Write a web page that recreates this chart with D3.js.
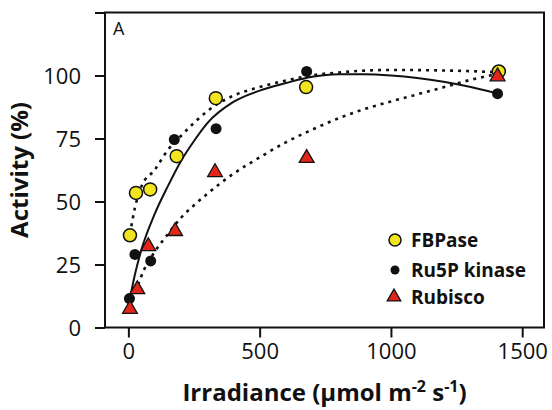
<!DOCTYPE html>
<html>
<head>
<meta charset="utf-8">
<script src="https://cdn.jsdelivr.net/npm/d3@7/dist/d3.min.js"></script>
<style>
  html, body { margin: 0; padding: 0; background: #fff; }
  svg { display: block; }
</style>
</head>
<body>
<svg id="chart" width="552" height="410"></svg>
<script>
// ---- data ----
const fbpaseX = [6, 29, 83, 184, 333, 677, 1411];
const fbpaseY = [36.6, 53.4, 54.8, 68, 91, 95.4, 101.6];
const ru5pX = [4, 25, 85, 175, 334, 679, 1406];
const ru5pY = [11.5, 29, 26.4, 74.6, 78.9, 101.6, 92.8];
const rubiscoX = [6, 34, 76, 178, 330, 679, 1406];
const rubiscoY = [7.7, 15.5, 32.6, 38.6, 62, 67.6, 100];

// fitted curves
const fbpaseFitX = [6, 25, 50, 100, 150, 200, 250, 300, 400, 500, 600, 700, 800, 1000, 1200, 1411];
const fbpaseFitY = [37, 47.5, 56, 62.5, 70.4, 76, 81.2, 85.8, 92, 95.4, 98, 100.1, 101.2, 102.2, 102, 101.3];
const ru5pFitX = [5, 25, 50, 100, 150, 200, 250, 300, 400, 500, 600, 700, 800, 900, 1000, 1100, 1200, 1300, 1406];
const ru5pFitY = [11, 21, 31, 45, 56, 66, 74, 81, 89.5, 94, 97, 99.5, 100.5, 100.5, 100, 99, 97.5, 95.5, 92.8];
const rubiscoFitX = [6, 30, 60, 100, 150, 200, 250, 300, 400, 500, 600, 700, 800, 900, 1000, 1100, 1200, 1300, 1406];
const rubiscoFitY = [8, 15, 23, 30, 37, 43.5, 48.5, 53, 61, 67.5, 73.5, 78.5, 83, 86.7, 89.7, 92.5, 95.3, 98.2, 100.6];

const xTicks = [0, 500, 1000, 1500];
const yTicks = [0, 25, 50, 75, 100];
const yTicksMinor = [125];
const legendNames = ["FBPase", "Ru5P kinase", "Rubisco"];

// ---- layout ----
const svg = d3.select("#chart");
const L = 105, R = 544, T = 12.5, B = 327.5;
const x = d3.scaleLinear().domain([-89, 1583]).range([L, R]);
const y = d3.scaleLinear().domain([0, 125]).range([B, T]);

const YELLOW = "#f3e420", RED = "#e2261b", INK = "#111";
const font = "'Open Sans', 'DejaVu Sans', sans-serif";

// frame
svg.append("rect").attr("x", L).attr("y", T).attr("width", R - L).attr("height", B - T)
  .attr("fill", "none").attr("stroke", INK).attr("stroke-width", 2);

// axes
const xAxis = svg.append("g").attr("transform", `translate(0,${B})`)
  .call(d3.axisBottom(x).tickValues(xTicks).tickSize(10).tickPadding(6).tickFormat(d3.format("d")));
const yAxis = svg.append("g").attr("transform", `translate(${L},0)`)
  .call(d3.axisLeft(y).tickValues(yTicks.concat(yTicksMinor)).tickSize(10).tickPadding(14)
    .tickFormat(d => yTicks.includes(d) ? d : ""));
[xAxis, yAxis].forEach(g => {
  g.select(".domain").remove();
  g.selectAll(".tick line").attr("stroke", INK).attr("stroke-width", 2);
  g.selectAll(".tick text").attr("fill", INK).style("font-family", font).style("font-size", "22px");
});
yAxis.selectAll(".tick text").attr("dy", "0.36em");

// panel letter
svg.append("text").attr("x", 113).attr("y", 35).text("A")
  .style("font-family", font).style("font-size", "18px").attr("fill", INK);

// axis titles
svg.append("text").attr("transform", `translate(28,${(T + B) / 2}) rotate(-90)`)
  .attr("text-anchor", "middle").attr("fill", INK)
  .style("font-family", font).style("font-weight", "bold").style("font-size", "24px")
  .text("Activity (%)");
const xt = svg.append("text").attr("x", (L + R) / 2).attr("y", 401).attr("text-anchor", "middle").attr("fill", INK)
  .style("font-family", font).style("font-weight", "bold").style("font-size", "24px");
xt.append("tspan").text("Irradiance (\u03BCmol m");
xt.append("tspan").attr("dy", -9).style("font-size", "16px").text("-2");
xt.append("tspan").attr("dy", 9).text(" s");
xt.append("tspan").attr("dy", -9).style("font-size", "16px").text("-1");
xt.append("tspan").attr("dy", 9).text(")");

// curves
const line = d3.line().x(d => x(d[0])).y(d => y(d[1])).curve(d3.curveMonotoneX);
const zip = (a, b) => a.map((v, i) => [v, b[i]]);
svg.append("path").datum(zip(rubiscoFitX, rubiscoFitY)).attr("d", line)
  .attr("fill", "none").attr("stroke", INK).attr("stroke-width", 2.6).attr("stroke-dasharray", "3,5");
svg.append("path").datum(zip(fbpaseFitX, fbpaseFitY)).attr("d", line)
  .attr("fill", "none").attr("stroke", INK).attr("stroke-width", 2.6).attr("stroke-dasharray", "3,5");
svg.append("path").datum(zip(ru5pFitX, ru5pFitY)).attr("d", line)
  .attr("fill", "none").attr("stroke", INK).attr("stroke-width", 2);

// markers
const tri = d3.symbol().type(d3.symbolTriangle).size(95);
const triSmall = d3.symbol().type(d3.symbolTriangle).size(80);
svg.append("g").selectAll("circle").data(zip(fbpaseX, fbpaseY)).join("circle")
  .attr("cx", d => x(d[0])).attr("cy", d => y(d[1])).attr("r", 6.5)
  .attr("fill", YELLOW).attr("stroke", INK).attr("stroke-width", 1.5);
svg.append("g").selectAll("circle").data(zip(ru5pX, ru5pY)).join("circle")
  .attr("cx", d => x(d[0])).attr("cy", d => y(d[1])).attr("r", 5.5).attr("fill", INK);
svg.append("g").selectAll("path").data(zip(rubiscoX, rubiscoY)).join("path")
  .attr("d", tri()).attr("transform", d => `translate(${x(d[0])},${y(d[1]) + 1})`)
  .attr("fill", RED).attr("stroke", INK).attr("stroke-width", 1.3);

// legend
const lg = svg.append("g");
const rows = [240, 270, 297];
lg.append("circle").attr("cx", 395).attr("cy", rows[0]).attr("r", 6)
  .attr("fill", YELLOW).attr("stroke", INK).attr("stroke-width", 1.5);
lg.append("circle").attr("cx", 395).attr("cy", rows[1]).attr("r", 4.5).attr("fill", INK);
lg.append("path").attr("d", triSmall()).attr("transform", `translate(394,${rows[2]})`)
  .attr("fill", RED).attr("stroke", INK).attr("stroke-width", 1.3);
legendNames.forEach((n, i) => {
  lg.append("text").attr("x", 411).attr("y", rows[i]).attr("dy", "0.35em").attr("fill", INK)
    .style("font-family", font).style("font-weight", "bold").style("font-size", "19px").text(n);
});
</script>
</body>
</html>
